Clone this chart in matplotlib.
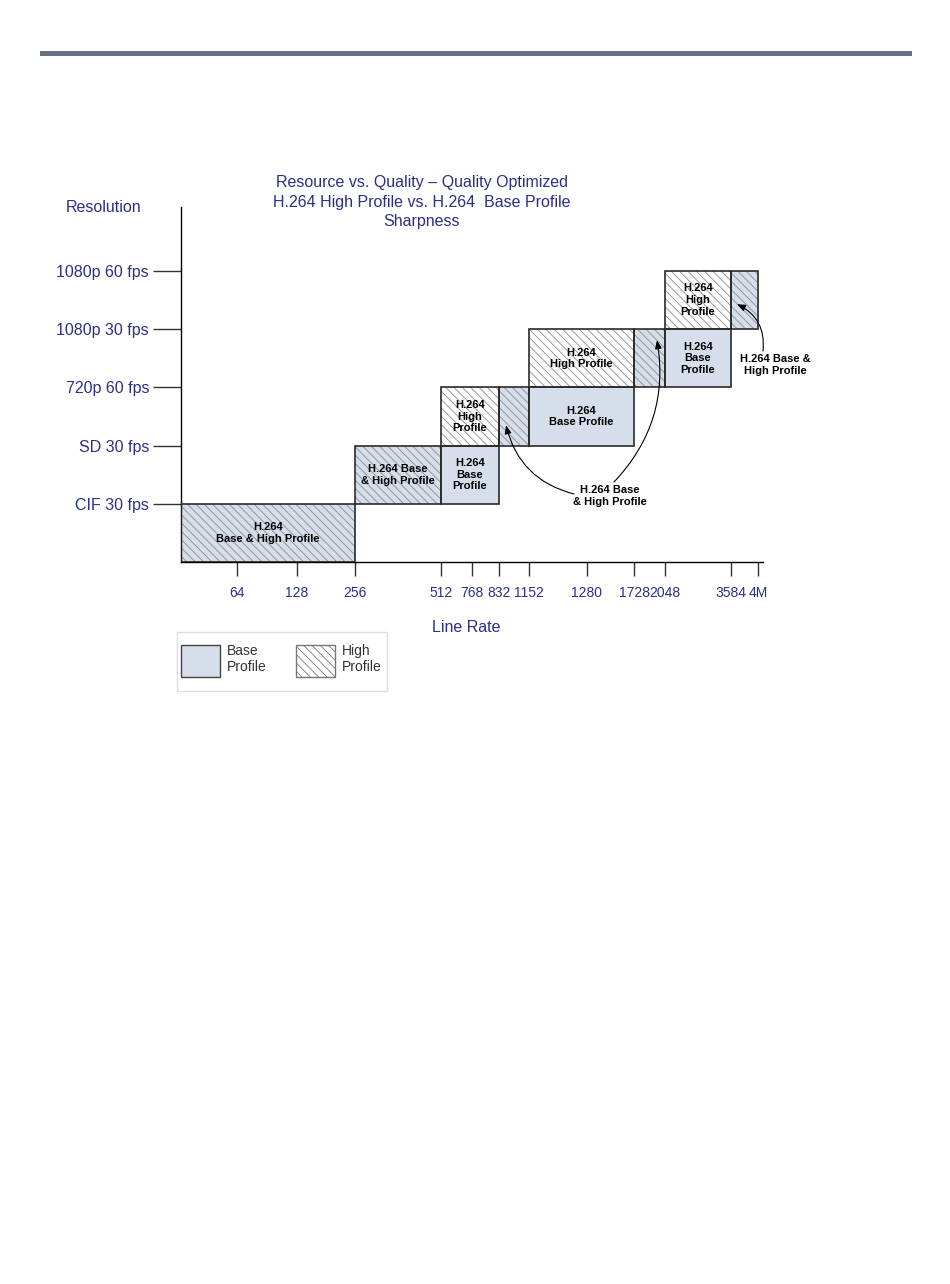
import numpy as np
import matplotlib.pyplot as plt
from matplotlib.patches import Rectangle, Patch

plt.rcParams['font.family'] = ['Liberation Sans', 'DejaVu Sans']
plt.rcParams['hatch.linewidth'] = 0.6

# data
resolutions = ['CIF 30 fps', 'SD 30 fps', '720p 60 fps', '1080p 30 fps', '1080p 60 fps']
rate_ticks = [64, 128, 256, 512, 768, 832, 1152, 1280, 1728, 2048, 3584, 4096]
rate_labels = ['64', '128', '256', '512', '768', '832', '1152', '1280', '1728', '2048', '3584', '4M']

block_row = [0, 1, 1, 2, 2, 2, 3, 3, 3, 4, 4]
block_start = [0, 256, 512, 512, 832, 1152, 1152, 1728, 2048, 2048, 3584]
block_end = [256, 512, 832, 832, 1152, 1728, 1728, 2048, 3584, 3584, 4096]
block_kind = ['both', 'both', 'base', 'high', 'both', 'base', 'high', 'both', 'base', 'high', 'both']
block_text = ['H.264\nBase & High Profile', 'H.264 Base\n& High Profile', 'H.264\nBase\nProfile',
              'H.264\nHigh\nProfile', '', 'H.264\nBase Profile', 'H.264\nHigh Profile', '',
              'H.264\nBase\nProfile', 'H.264\nHigh\nProfile', '']

# the line rate axis in the original is schematic, not proportional
axis_rates = [0] + rate_ticks
axis_slots = [0, 56, 116, 174, 260, 291, 318, 348, 406, 453, 484, 550, 577]

def fwd(r):
    r = np.asarray(r, dtype=float)
    s = np.interp(r, axis_rates, axis_slots)
    k = (axis_slots[-1] - axis_slots[-2]) / (axis_rates[-1] - axis_rates[-2])
    return np.where(r > axis_rates[-1], axis_slots[-1] + (r - axis_rates[-1]) * k, s)

def inv(s):
    s = np.asarray(s, dtype=float)
    r = np.interp(s, axis_slots, axis_rates)
    k = (axis_rates[-1] - axis_rates[-2]) / (axis_slots[-1] - axis_slots[-2])
    return np.where(s > axis_slots[-1], axis_rates[-1] + (s - axis_slots[-1]) * k, r)

navy = '#2b2f86'
base_col = '#d5deea'
hatch_col = '#8c8c8c'
edge_col = '#2a2a2a'
HATCH = '\\\\\\\\'

W, H = 950, 1284
fig = plt.figure(figsize=(9.5, 12.84), dpi=100)
ax = fig.add_axes([181 / W, 1 - 562 / H, (763 - 181) / W, (562 - 207) / H])
ax.set_xscale('function', functions=(fwd, inv))
ax.set_xlim(0, inv(582))
ax.set_ylim(0, (562 - 207) / 58.2)

# top rule
fig.patches.append(Rectangle((40 / W, 1 - 56 / H), 872 / W, 5 / H, transform=fig.transFigure,
                             facecolor='#66727f', edgecolor='none'))

for row, x0, x1, kind, txt in zip(block_row, block_start, block_end, block_kind, block_text):
    fc = 'white' if kind == 'high' else base_col
    hatch = None if kind == 'base' else HATCH
    ax.add_patch(Rectangle((x0, row), x1 - x0, 1, facecolor=fc, edgecolor=hatch_col,
                           linewidth=0, hatch=hatch, zorder=2))
    ax.add_patch(Rectangle((x0, row), x1 - x0, 1, fill=False, edgecolor=edge_col,
                           linewidth=1.2, zorder=3))
    if txt:
        xm = inv((fwd(x0) + fwd(x1)) / 2)
        ax.text(xm, row + 0.5, txt, ha='center', va='center', fontsize=8, fontweight='bold',
                linespacing=1.2, zorder=4)

for s in ['top', 'right']:
    ax.spines[s].set_visible(False)
ax.spines['left'].set_linewidth(1.0)
ax.spines['bottom'].set_linewidth(1.0)

ax.set_yticks(range(1, len(resolutions) + 1))
ax.set_yticklabels(resolutions, color=navy, fontsize=11.5)
ax.tick_params(axis='y', length=20, width=1, pad=3, color='#333333')
ax.set_xticks(rate_ticks)
ax.set_xticklabels(rate_labels, color=navy, fontsize=10)
ax.tick_params(axis='x', length=10, width=1, pad=7, color='#333333')
ax.minorticks_off()

fig.text(104 / W, 1 - 207 / H, 'Resolution', ha='center', va='center', color=navy, fontsize=11.5)
fig.text(466 / W, 1 - 627 / H, 'Line Rate', ha='center', va='center', color=navy, fontsize=11.5)
fig.text(422 / W, 1 - 202 / H,
         'Resource vs. Quality \u2013 Quality Optimized\nH.264 High Profile vs. H.264  Base Profile\nSharpness',
         ha='center', va='center', color=navy, fontsize=11.5, linespacing=1.4)

# callouts
fig.text(775 / W, 1 - 365 / H, 'H.264 Base &\nHigh Profile', ha='center', va='center',
         fontsize=8, fontweight='bold', linespacing=1.2)
fig.text(610 / W, 1 - 496 / H, 'H.264 Base\n& High Profile', ha='center', va='center',
         fontsize=8, fontweight='bold', linespacing=1.2)
arrow = dict(arrowstyle='-|>,head_length=0.5,head_width=0.2', color='black', lw=0.8,
             shrinkA=0, shrinkB=0)
ax.annotate('', xy=(3698, 4.43), xytext=(763, H - 351), textcoords='figure pixels',
            arrowprops=dict(arrow, connectionstyle='arc3,rad=0.35'), annotation_clip=False)
ax.annotate('', xy=(907, 2.35), xytext=(574, H - 494), textcoords='figure pixels',
            arrowprops=dict(arrow, connectionstyle='arc3,rad=-0.3'))
ax.annotate('', xy=(1965, 3.81), xytext=(614, H - 482), textcoords='figure pixels',
            arrowprops=dict(arrow, connectionstyle='arc3,rad=0.25'))

# legend, with its own frame
fig.patches.append(Rectangle((177 / W, 1 - 691 / H), 210 / W, 59 / H, transform=fig.transFigure,
                             facecolor='white', edgecolor='#dddddd', linewidth=1.0))
handles = [Patch(facecolor=base_col, edgecolor='#444444', linewidth=1.0),
           Patch(facecolor='white', edgecolor='#777777', linewidth=1.0, hatch=HATCH)]
leg = fig.legend(handles, ['Base\nProfile', 'High\nProfile'], ncol=2, loc='upper left',
                 bbox_to_anchor=(181 / W, 1 - 644 / H), borderaxespad=0, fontsize=10,
                 handlelength=2.8, handleheight=3.15, handletextpad=0.5, columnspacing=2.1,
                 borderpad=0, frameon=False)
for t in leg.get_texts():
    t.set_color('#333333')

fig.savefig('out.png', dpi=100)
